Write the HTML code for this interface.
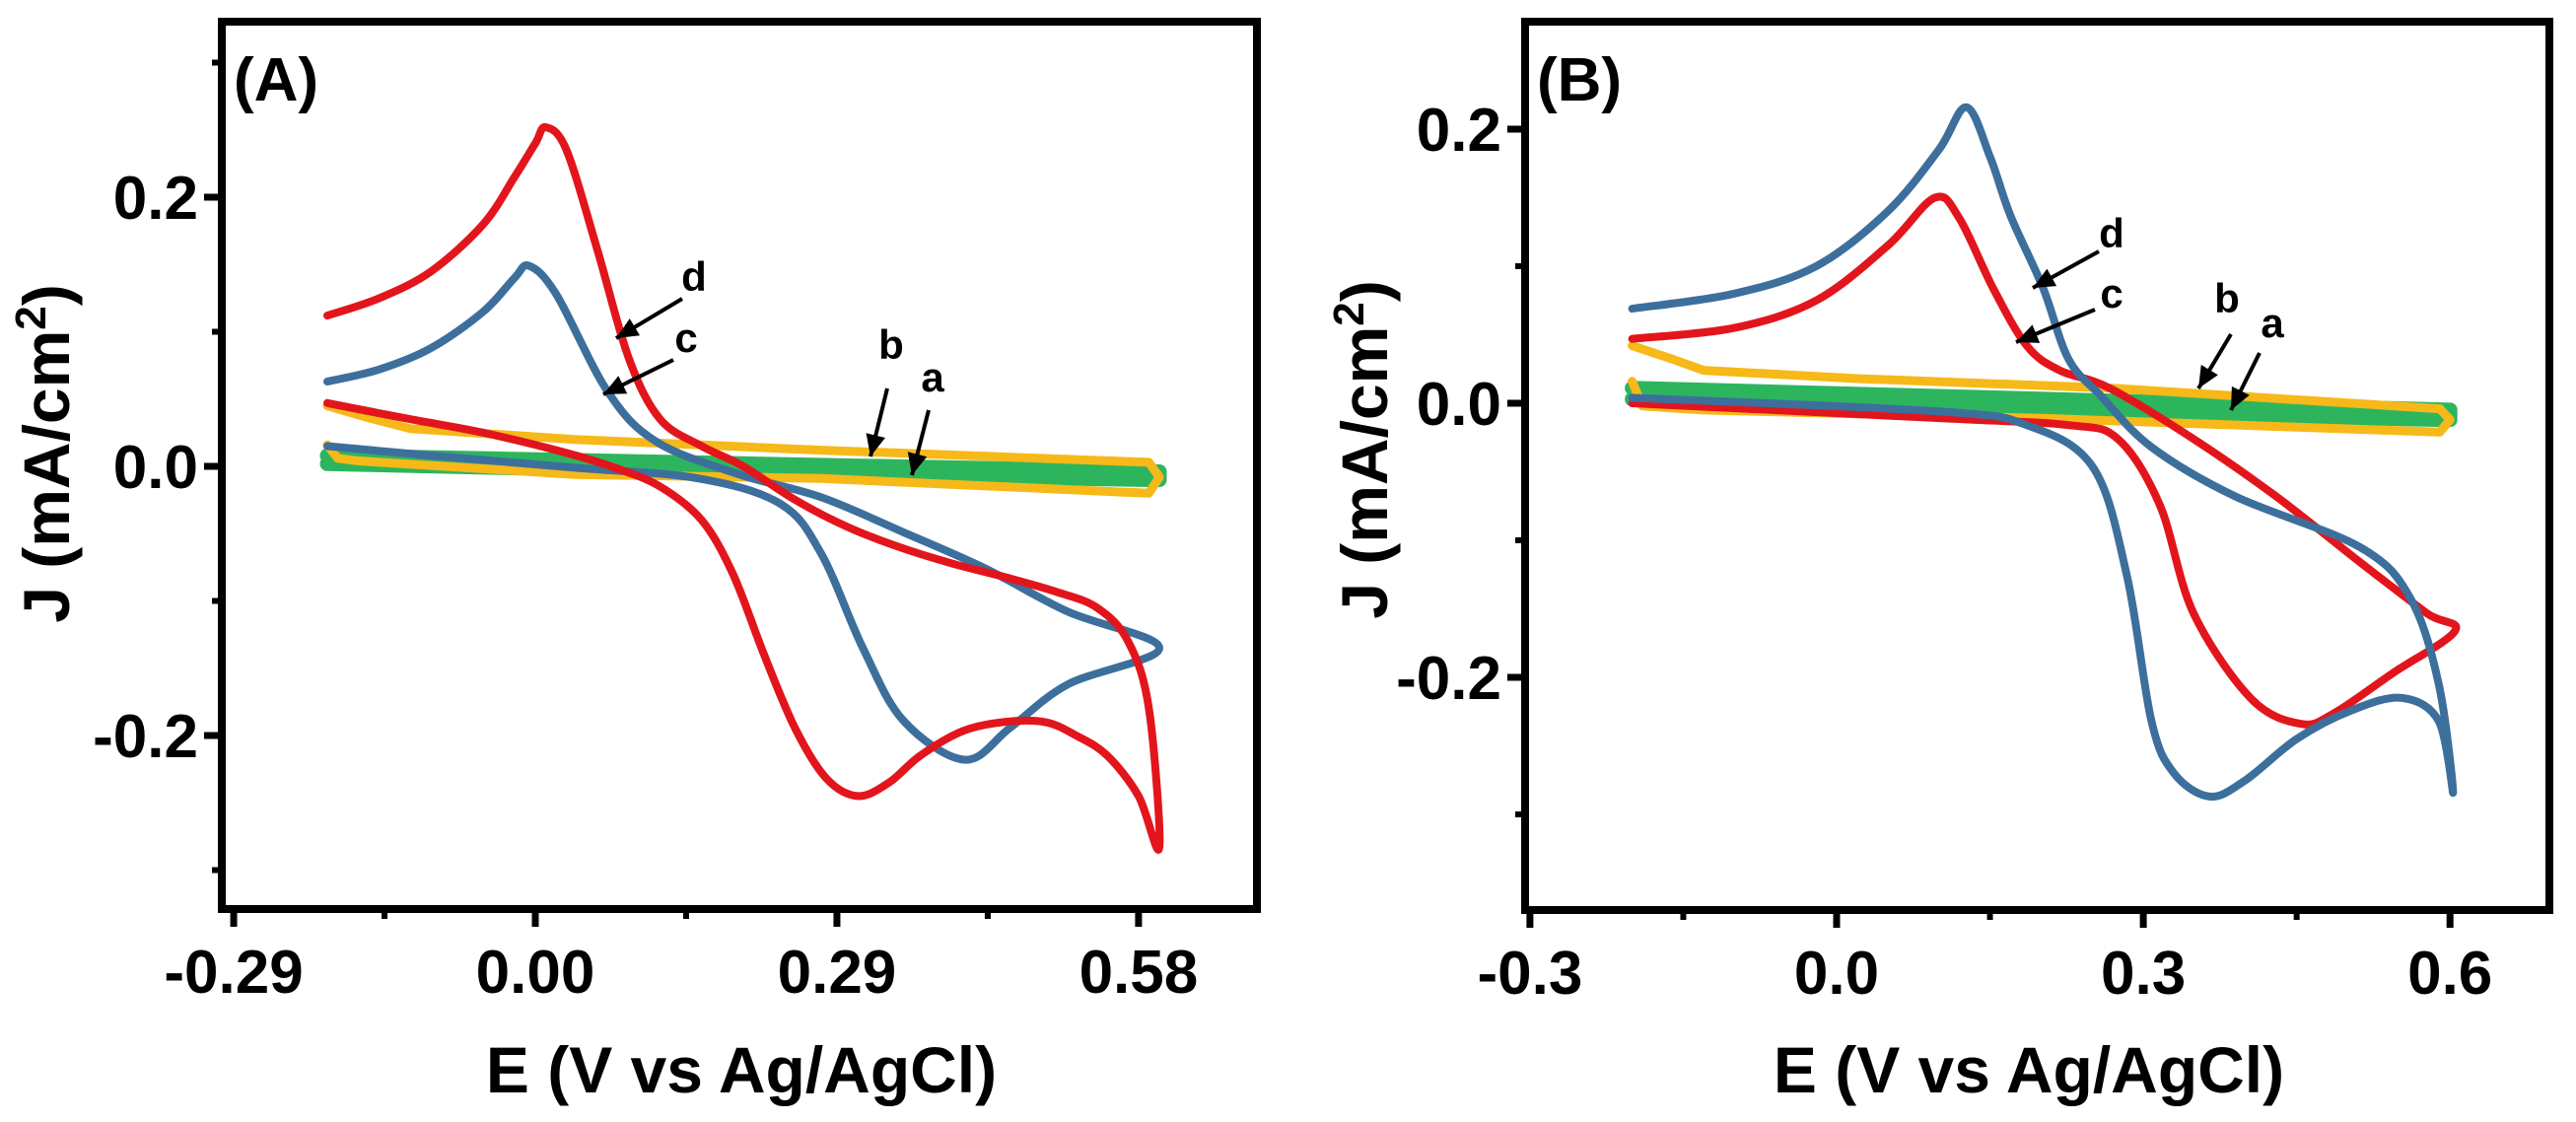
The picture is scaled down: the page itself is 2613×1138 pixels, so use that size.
<!DOCTYPE html>
<html><head><meta charset="utf-8"><style>
html,body{margin:0;padding:0;background:#fff;}
svg{display:block;font-family:"Liberation Sans",Arial,sans-serif;font-weight:bold;}
</style></head><body>
<svg id="chart" width="2613" height="1138" viewBox="0 0 2613 1138" xmlns="http://www.w3.org/2000/svg"></svg>
<script>
// ---------- Panel A data ----------
const aXTicks = [-0.29, 0, 0.29, 0.58];
const aXTickLabels = ["-0.29", "0.00", "0.29", "0.58"];
const aXMinor = [-0.145, 0.145, 0.435];
const aYTicks = [0.2, 0, -0.2];
const aYTickLabels = ["0.2", "0.0", "-0.2"];
const aYMinor = [0.3, 0.1, -0.1, -0.3];
const aRedE = [-0.2,-0.15,-0.1,-0.05,-0.02,0.0,0.01,0.03,0.06,0.09,0.12,0.16,0.2,0.25,0.3,0.35,0.4,0.45,0.5,0.54,0.57,0.59,0.6,
  0.58,0.55,0.52,0.49,0.45,0.41,0.37,0.34,0.31,0.28,0.25,0.22,0.19,0.16,0.12,0.08,0.03,-0.05,-0.12,-0.2];
const aRedJ = [0.112,0.125,0.145,0.18,0.215,0.24,0.252,0.235,0.16,0.08,0.035,0.015,0.0,-0.025,-0.045,-0.06,-0.072,-0.082,-0.093,-0.105,-0.13,-0.18,-0.283,
  -0.245,-0.215,-0.2,-0.19,-0.19,-0.197,-0.215,-0.235,-0.245,-0.232,-0.195,-0.14,-0.08,-0.04,-0.015,-0.002,0.01,0.025,0.035,0.047];
const aBlueE = [-0.2,-0.15,-0.1,-0.05,-0.02,-0.006,0.02,0.07,0.117,0.196,0.275,0.354,0.433,0.512,0.6,
  0.512,0.457,0.413,0.354,0.315,0.275,0.236,0.157,0.038,-0.1,-0.2];
const aBlueJ = [0.063,0.072,0.088,0.115,0.14,0.149,0.128,0.055,0.018,-0.006,-0.023,-0.049,-0.076,-0.108,-0.135,
  -0.162,-0.194,-0.218,-0.189,-0.135,-0.065,-0.028,-0.009,-0.001,0.008,0.015];
const aYellowE = [-0.2,-0.16,-0.12,0.038,0.275,0.59,0.6,0.59,0.275,0.038,-0.17,-0.19,-0.2];
const aYellowJ = [0.045,0.036,0.028,0.02,0.012,0.003,-0.008,-0.02,-0.009,-0.006,0.004,0.006,0.016];
const aGreenE = [-0.2,0.2,0.6,0.6,0.2,-0.2];
const aGreenJ = [0.008,0.002,-0.004,-0.01,-0.005,0.002];

// ---------- Panel B data ----------
const bXTicks = [-0.3, 0, 0.3, 0.6];
const bXTickLabels = ["-0.3", "0.0", "0.3", "0.6"];
const bXMinor = [-0.15, 0.15, 0.45];
const bYTicks = [0.2, 0, -0.2];
const bYTickLabels = ["0.2", "0.0", "-0.2"];
const bYMinor = [0.1, -0.1, -0.3];
const bBlueE = [-0.2,-0.1,-0.02,0.05,0.1,0.127,0.15,0.17,0.202,0.227,0.259,0.308,0.39,0.512,0.561,0.589,0.603,
  0.589,0.553,0.504,0.45,0.4,0.365,0.33,0.308,0.284,0.251,0.186,0.1,-0.2];
const bBlueJ = [0.069,0.08,0.1,0.14,0.185,0.216,0.18,0.137,0.084,0.032,0.005,-0.032,-0.068,-0.105,-0.142,-0.205,-0.284,
  -0.232,-0.215,-0.224,-0.245,-0.275,-0.287,-0.27,-0.232,-0.126,-0.047,-0.016,-0.006,0.004];
const bRedE = [-0.2,-0.1,-0.02,0.05,0.096,0.12,0.153,0.186,0.218,0.267,0.349,0.43,0.512,0.577,0.605,
  0.544,0.487,0.455,0.406,0.349,0.316,0.275,0.227,0.104,-0.2];
const bRedJ = [0.047,0.055,0.075,0.115,0.15,0.135,0.084,0.042,0.024,0.011,-0.026,-0.068,-0.116,-0.153,-0.166,
  -0.197,-0.226,-0.234,-0.216,-0.153,-0.074,-0.026,-0.016,-0.011,0.0];
const bYellowE = [-0.2,-0.16,-0.13,0.02,0.27,0.59,0.6,0.59,0.2,-0.13,-0.19,-0.2];
const bYellowJ = [0.042,0.032,0.024,0.018,0.011,-0.004,-0.012,-0.021,-0.011,-0.005,-0.002,0.016];
const bGreenE = [-0.2,0.2,0.6,0.6,0.2,-0.2];
const bGreenJ = [0.011,0.003,-0.005,-0.012,-0.006,0.003];

const NS = "http://www.w3.org/2000/svg";
const svg = document.getElementById("chart");
function mk(tag, attrs, parent) {
  const e = document.createElementNS(NS, tag);
  for (const k in attrs) e.setAttribute(k, attrs[k]);
  (parent || svg).appendChild(e);
  return e;
}
function smoothPath(pts) {
  let d = "M" + pts[0][0].toFixed(1) + "," + pts[0][1].toFixed(1);
  for (let i = 0; i < pts.length - 1; i++) {
    const p0 = pts[Math.max(0, i - 1)], p1 = pts[i], p2 = pts[i + 1], p3 = pts[Math.min(pts.length - 1, i + 2)];
    const c1x = p1[0] + (p2[0] - p0[0]) / 6, c1y = p1[1] + (p2[1] - p0[1]) / 6;
    const c2x = p2[0] - (p3[0] - p1[0]) / 6, c2y = p2[1] - (p3[1] - p1[1]) / 6;
    d += " C" + c1x.toFixed(1) + "," + c1y.toFixed(1) + " " + c2x.toFixed(1) + "," + c2y.toFixed(1) + " " + p2[0].toFixed(1) + "," + p2[1].toFixed(1);
  }
  return d;
}
function linePath(pts) {
  return "M" + pts.map(p => p[0].toFixed(1) + "," + p[1].toFixed(1)).join(" L");
}

function panel(cfg) {
  const g = mk("g", {});
  
  
  const sx = v => cfg.x0 + v * cfg.kx;
  const sy = v => cfg.y0 - v * cfg.ky;
  cfg.series.forEach(s => {
    const pts = s.E.map((e, i) => [sx(e), sy(s.J[i])]);
    const p = mk("path", {d: s.straight ? linePath(pts) : smoothPath(pts), fill: "none", stroke: s.color, "stroke-width": s.w, "stroke-linejoin": "round", "stroke-linecap": "round"}, g);
    
    
  });
  const fr = mk("rect", {x: cfg.L, y: cfg.T, width: cfg.R - cfg.L, height: cfg.B - cfg.T, fill: "none", stroke: "#000", "stroke-width": 8}, g);
  
  
  cfg.xTicks.forEach((v, i) => {
    const x = sx(v);
    const t = mk("line", {x1: x, y1: cfg.B, x2: x, y2: cfg.B + 18, stroke: "#000", "stroke-width": 7}, g);
    
    
    const lb = mk("text", {x: x, y: cfg.B + 85, "text-anchor": "middle", "font-size": 62}, g);
    lb.textContent = cfg.xLabels[i];
    
    
  });
  cfg.xMinor.forEach(v => {
    const t = mk("line", {x1: sx(v), y1: cfg.B, x2: sx(v), y2: cfg.B + 10, stroke: "#000", "stroke-width": 6}, g);
    
    
  });
  cfg.yTicks.forEach((v, i) => {
    const y = sy(v);
    const t = mk("line", {x1: cfg.L - 18, y1: y, x2: cfg.L, y2: y, stroke: "#000", "stroke-width": 7}, g);
    
    
    const lb = mk("text", {x: cfg.L - 24, y: y + 22, "text-anchor": "end", "font-size": 62}, g);
    lb.textContent = cfg.yLabels[i];
    
    
  });
  cfg.yMinor.forEach(v => {
    const t = mk("line", {x1: cfg.L - 10, y1: sy(v), x2: cfg.L, y2: sy(v), stroke: "#000", "stroke-width": 6}, g);
    
    
  });
  const xt = mk("text", {x: cfg.xTitleX, y: 1108, "text-anchor": "middle", "font-size": 66}, g);
  xt.textContent = "E (V vs Ag/AgCl)";
  
  
  const yt = mk("text", {x: 0, y: 0, "text-anchor": "middle", "font-size": 66, transform: "translate(" + (cfg.yTitleX + 23) + "," + cfg.yTitleY + ") rotate(-90)"}, g);
  yt.innerHTML = 'J (mA/cm<tspan dy="-24" font-size="44">2</tspan><tspan dy="24">)</tspan>';
  
  
  const pl = mk("text", {x: cfg.L + 12, y: cfg.T + 80, "font-size": 62}, g);
  pl.textContent = cfg.label;
  
  
  cfg.notes.forEach(n => {
    const tx = mk("text", {x: n.tx, y: n.ty + 14, "text-anchor": "middle", "font-size": 42}, g);
    tx.textContent = n.t;
    
    
    const ln = mk("line", {x1: n.x1, y1: n.y1, x2: n.x2, y2: n.y2, stroke: "#000", "stroke-width": 4}, g);
    
    
    const ang = Math.atan2(n.y2 - n.y1, n.x2 - n.x1), L = 22, W = 10;
    const bx = n.x2 - L * Math.cos(ang), by = n.y2 - L * Math.sin(ang);
    const px = -Math.sin(ang) * W, py = Math.cos(ang) * W;
    const hd = mk("polygon", {points: n.x2 + "," + n.y2 + " " + (bx + px) + "," + (by + py) + " " + (bx - px) + "," + (by - py), fill: "#000"}, g);
    
    
  });
}

const RED = "#e3151c", BLUE = "#3d6f9c", YEL = "#f6b919", GRN = "#2db55d";
panel({
  name: "panel-a", label: "(A)", L: 225, R: 1275, T: 22, B: 922,
  x0: 543, kx: 1055, y0: 473, ky: 1365,
  xTicks: aXTicks, xLabels: aXTickLabels, xMinor: aXMinor,
  yTicks: aYTicks, yLabels: aYTickLabels, yMinor: aYMinor,
  xTitleX: 752, yTitleX: 47, yTitleY: 460,
  series: [
    {name: "curve-a-green", E: aGreenE, J: aGreenJ, color: GRN, w: 15, straight: true},
    {name: "curve-b-yellow", E: aYellowE, J: aYellowJ, color: YEL, w: 9, straight: true},
    {name: "curve-c-blue", E: aBlueE, J: aBlueJ, color: BLUE, w: 8},
    {name: "curve-d-red", E: aRedE, J: aRedJ, color: RED, w: 8}
  ],
  notes: [
    {t: "d", tx: 704, ty: 281, x1: 692, y1: 303, x2: 625, y2: 343},
    {t: "c", tx: 696, ty: 343, x1: 683, y1: 365, x2: 612, y2: 400},
    {t: "b", tx: 904, ty: 350, x1: 900, y1: 394, x2: 883, y2: 463},
    {t: "a", tx: 946, ty: 383, x1: 942, y1: 416, x2: 925, y2: 482}
  ]
});
panel({
  name: "panel-b", label: "(B)", L: 1547, R: 2586, T: 22, B: 923,
  x0: 1863, kx: 1037, y0: 409, ky: 1390,
  xTicks: bXTicks, xLabels: bXTickLabels, xMinor: bXMinor,
  yTicks: bYTicks, yLabels: bYTickLabels, yMinor: bYMinor,
  xTitleX: 2058, yTitleX: 1384, yTitleY: 456,
  series: [
    {name: "curve-a-green", E: bGreenE, J: bGreenJ, color: GRN, w: 15, straight: true},
    {name: "curve-b-yellow", E: bYellowE, J: bYellowJ, color: YEL, w: 9, straight: true},
    {name: "curve-c-red", E: bRedE, J: bRedJ, color: RED, w: 8},
    {name: "curve-d-blue", E: bBlueE, J: bBlueJ, color: BLUE, w: 8}
  ],
  notes: [
    {t: "d", tx: 2142, ty: 237, x1: 2129, y1: 255, x2: 2062, y2: 292},
    {t: "c", tx: 2142, ty: 298, x1: 2125, y1: 314, x2: 2045, y2: 347},
    {t: "b", tx: 2259, ty: 303, x1: 2263, y1: 339, x2: 2230, y2: 394},
    {t: "a", tx: 2305, ty: 328, x1: 2292, y1: 358, x2: 2263, y2: 416}
  ]
});
</script>
</body></html>
